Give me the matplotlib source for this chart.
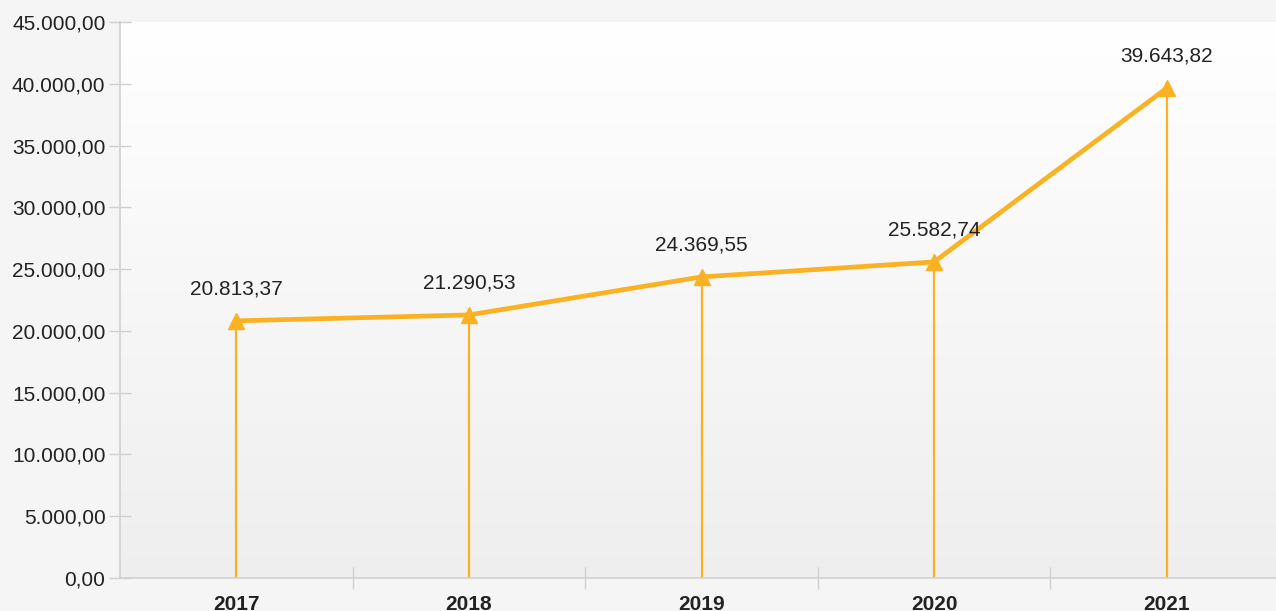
import matplotlib
matplotlib.use("Agg")
import matplotlib.pyplot as plt
import numpy as np
from matplotlib.ticker import FuncFormatter

years = ["2017", "2018", "2019", "2020", "2021"]
values = [20813.37, 21290.53, 24369.55, 25582.74, 39643.82]
yticks = [0, 5000, 10000, 15000, 20000, 25000, 30000, 35000, 40000, 45000]

def br(v):
    s = f"{v:,.2f}"
    return s.replace(",", "X").replace(".", ",").replace("X", ".")

plt.rcParams["font.family"] = ["Liberation Sans", "DejaVu Sans"]

W, H = 1276, 611
fig = plt.figure(figsize=(W/100, H/100), dpi=100)
fig.patch.set_facecolor("#f5f5f5")
left, right = 120/W, 1283/W
bottom, top = 1 - 578/H, 1 - 22/H
ax = fig.add_axes([left, bottom, right-left, top-bottom])
ax.set_facecolor("none")

# gradient background
grad = np.linspace(1, 0, 256).reshape(-1, 1)
c_top = np.array([1.0, 1.0, 1.0])
c_bot = np.array([0.935, 0.935, 0.935])
img = c_bot + (c_top - c_bot) * grad
img = np.repeat(img[:, None, :], 2, axis=1).reshape(256, 2, 3)
ax.imshow(img, extent=[-0.5, 4.5, 0, 45000], aspect="auto", origin="upper", zorder=0)

x = np.arange(len(years))
color = "#fbb124"
ax.vlines(x, 0, values, color=color, lw=1.6, zorder=2)
ax.plot(x, values, color=color, lw=3.4, marker="^", markersize=11, zorder=3)
for xi, v in zip(x, values):
    ax.annotate(br(v), (xi, v), xytext=(0, 16), textcoords="offset points",
                ha="center", va="bottom", fontsize=15, color="#222222")

ax.set_xlim(-0.5, 4.5)
ax.set_ylim(0, 45000)
ax.set_yticks(yticks)
ax.yaxis.set_major_formatter(FuncFormatter(lambda v, p: br(v)))
ax.set_xticks(x)
ax.set_xticklabels(years, fontweight="bold")
ax.set_xticks(np.arange(0.5, 4.5, 1), minor=True)
ax.tick_params(axis="x", which="major", length=0, pad=12, labelsize=15, colors="#222222")
ax.tick_params(axis="x", which="minor", length=16, width=1, color="#d0d0d0", direction="inout")
ax.tick_params(axis="y", length=16, width=1, color="#d0d0d0", direction="inout", pad=2.5,
               labelsize=15, labelcolor="#222222")
for s in ["top", "right"]:
    ax.spines[s].set_visible(False)
for s in ["left", "bottom"]:
    ax.spines[s].set_color("#d0d0d0")
    ax.spines[s].set_linewidth(1.2)

fig.savefig("out.png", dpi=100, facecolor=fig.get_facecolor())
